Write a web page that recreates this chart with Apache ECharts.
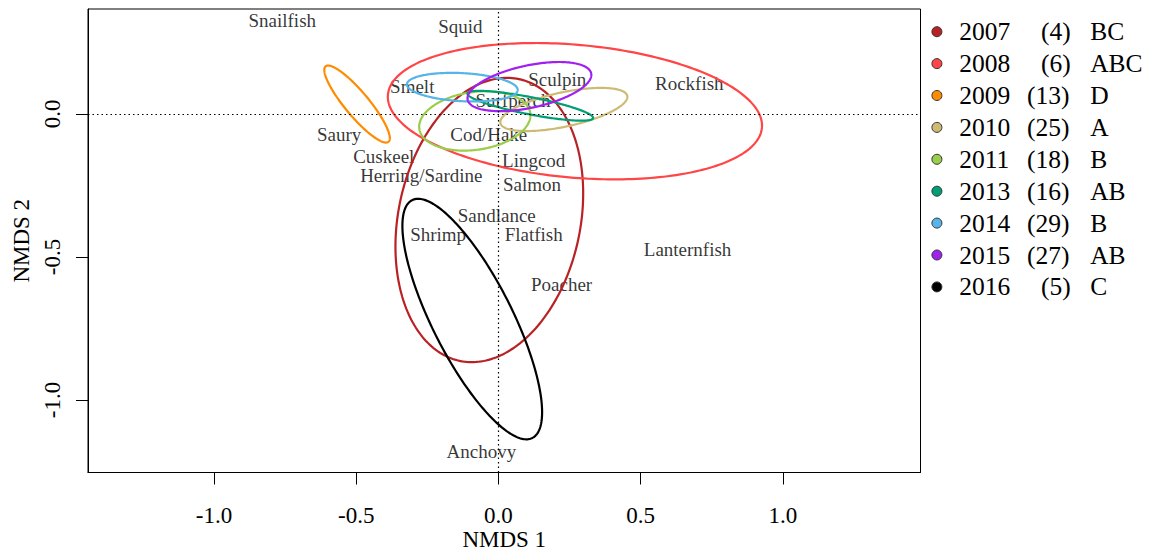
<!DOCTYPE html>
<html><head><meta charset="utf-8">
<script src="https://cdn.jsdelivr.net/npm/echarts@6/dist/echarts.min.js"></script>
<style>html,body{margin:0;padding:0;background:#fff}#c{width:1156px;height:556px}</style>
</head><body><div id="c"></div>
<script>
// ---- data ----
const years  = ['2007','2008','2009','2010','2011','2013','2014','2015','2016'];
const counts = [4, 6, 13, 25, 18, 16, 29, 27, 5];
const groups = ['BC','ABC','D','A','B','AB','B','AB','C'];
const colors = ['#B82225','#FF4545','#FF8C00','#CDBB74','#9ACD4A','#009E73','#56B4E9','#A020F0','#000000'];
// ellipse centre, semi-axes (NMDS units) and rotation (degrees)
const ellipseCX    = [-0.032, 0.269, -0.497, 0.230, -0.083, 0.112, -0.127, 0.109, -0.092];
const ellipseCY    = [-0.371, 0.009,  0.034, 0.015, -0.025, 0.028,  0.093, 0.095, -0.717];
const ellipseA     = [ 0.503, 0.660,  0.172, 0.228,  0.197, 0.225,  0.195, 0.222,  0.466];
const ellipseB     = [ 0.320, 0.232,  0.042, 0.060,  0.101, 0.030,  0.049, 0.074,  0.140];
const ellipseAngle = [ 78,    -5,    -50,    12,     8,    -11,    -3,     12,    -63];

const speciesNames = ['Snailfish','Squid','Smelt','Sculpin','Rockfish','Surfperch','Saury','Cod/Hake','Cuskeel',
  'Lingcod','Herring/Sardine','Salmon','Sandlance','Shrimp','Flatfish','Lanternfish','Poacher','Anchovy'];
const speciesX = [-0.760,-0.134,-0.303, 0.207, 0.671, 0.051,-0.560,-0.034,-0.403,
   0.124,-0.271, 0.118,-0.006,-0.212, 0.124, 0.665, 0.222,-0.060];
const speciesY = [ 0.325, 0.304, 0.097, 0.121, 0.106, 0.048,-0.074,-0.074,-0.148,
  -0.162,-0.217,-0.246,-0.354,-0.421,-0.420,-0.474,-0.595,-1.178];

const xTicks = [-1.0, -0.5, 0.0, 0.5, 1.0];
const yTicks = [0.0, -0.5, -1.0];
const xRange = [-1.443, 1.484];
const yRange = [-1.253, 0.366];

// ---- chart ----
const FONT = "'Liberation Serif','Times New Roman',serif";
const chart = echarts.init(document.getElementById('c'), null, {renderer: 'svg'});

function ellipseRender(color) {
  return function (params, api) {
    const cx = api.value(0), cy = api.value(1), a = api.value(2), b = api.value(3);
    const ang = api.value(4) * Math.PI / 180;
    const pts = [];
    const N = 240;
    for (let i = 0; i < N; i++) {
      const t = 2 * Math.PI * i / N;
      const ex = a * Math.cos(t), ey = b * Math.sin(t);
      pts.push(api.coord([cx + ex * Math.cos(ang) - ey * Math.sin(ang),
                          cy + ex * Math.sin(ang) + ey * Math.cos(ang)]));
    }
    return {type: 'polygon', shape: {points: pts},
            style: {fill: 'none', stroke: color, lineWidth: 2.2}};
  };
}

const series = [{
  type: 'scatter',
  name: 'species',
  data: speciesNames.map((n, i) => [speciesX[i], speciesY[i], n]),
  symbolSize: 1,
  itemStyle: {color: 'transparent'},
  silent: true,
  z: 1,
  label: {show: true, position: 'inside', formatter: p => p.value[2],
          fontFamily: FONT, fontSize: 19, lineHeight: 14, color: '#000',
          textBorderWidth: 0},
  markLine: {
    silent: true, symbol: ['none', 'none'], label: {show: false},
    lineStyle: {type: [1.5, 3], color: '#000', width: 1.2},
    data: [{xAxis: 0}, {yAxis: 0}]
  }
}];
years.forEach((y, i) => {
  series.push({
    type: 'custom', name: y, z: 3, silent: true,
    itemStyle: {color: colors[i]},
    renderItem: ellipseRender(colors[i]),
    data: [[ellipseCX[i], ellipseCY[i], ellipseA[i], ellipseB[i], ellipseAngle[i]]]
  });
});

const tokenBase = {fontFamily: FONT, fontSize: 25.5, lineHeight: 26, color: '#000'};
chart.setOption({
  animation: false,
  backgroundColor: '#fff',
  grid: {left: 88, top: 9, width: 832.5, height: 463.5, show: true, outerBoundsMode: 'none',
         containLabel: false,
         borderColor: '#000', borderWidth: 1, backgroundColor: 'transparent'},
  xAxis: {
    type: 'value', min: xRange[0], max: xRange[1],
    name: 'NMDS 1', nameLocation: 'middle', nameGap: 55, nameMoveOverlap: false,
    nameTextStyle: {fontFamily: FONT, fontSize: 23, color: '#000'},
    axisLine: {show: true, onZero: false, lineStyle: {color: '#000', width: 1}},
    axisTick: {show: true, length: 12, customValues: xTicks, lineStyle: {color: '#000', width: 1}},
    axisLabel: {customValues: xTicks, formatter: v => v.toFixed(1), margin: 31,
                fontFamily: FONT, fontSize: 23, color: '#000'},
    splitLine: {show: false}
  },
  yAxis: {
    type: 'value', min: yRange[0], max: yRange[1],
    name: 'NMDS 2', nameLocation: 'middle', nameGap: 53, nameRotate: 90,
    nameTextStyle: {fontFamily: FONT, fontSize: 23, color: '#000'},
    axisLine: {show: true, onZero: false, lineStyle: {color: '#000', width: 1}},
    axisTick: {show: true, length: 12, customValues: yTicks, lineStyle: {color: '#000', width: 1}},
    axisLabel: {customValues: yTicks, formatter: v => v.toFixed(1), rotate: 90, margin: 24,
                fontFamily: FONT, fontSize: 23, color: '#000'},
    splitLine: {show: false}
  },
  legend: {
    data: years, orient: 'vertical', left: 931.4, top: 18.7, padding: 0,
    itemWidth: 34.6, itemHeight: 10, itemGap: 5.9, icon: 'circle',
    selectedMode: false,
    itemStyle: {borderColor: '#333', borderWidth: 1},
    formatter: function (name) {
      const i = years.indexOf(name);
      const one = counts[i] < 10;
      return '{' + (one ? 'ya' : 'yb') + '|' + name + '}{' + (one ? 'na' : 'nb') + '|(' + counts[i] + ')}{g|' + groups[i] + '}';
    },
    textStyle: Object.assign({}, tokenBase, {
      rich: {
        ya: Object.assign({width: 81.7}, tokenBase),
        yb: Object.assign({width: 67.7}, tokenBase),
        na: Object.assign({width: 49.3}, tokenBase),
        nb: Object.assign({width: 63.3}, tokenBase),
        g: Object.assign({}, tokenBase)
      }
    })
  },
  series: series
});
</script></body></html>
